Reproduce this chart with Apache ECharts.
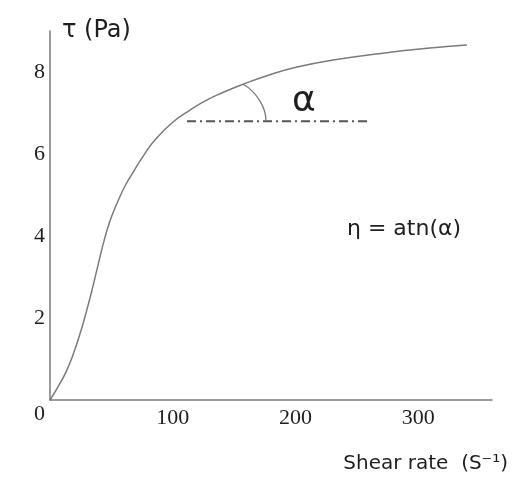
<!DOCTYPE html>
<html>
<head>
<meta charset="utf-8">
<script src="https://cdn.jsdelivr.net/npm/echarts@6/dist/echarts.min.js"></script>
<style>
  html, body { margin: 0; padding: 0; background: #fff; }
  #chart { width: 528px; height: 488px; }
</style>
</head>
<body>
<div id="chart"></div>
<script>
// flow curve: shear rate (1/s) vs shear stress (Pa)
const shearRate = [0, 6.5, 13.0, 18.7, 24.4, 29.3, 34.2, 39.1, 44.0, 48.9, 54.6, 61.1, 68.4, 76.6, 86.3, 100.2, 114.0, 127.9, 140.9, 157.2, 176.7, 201.2, 230.5, 271.2, 311.9, 339.6]
const stress    = [0, 0.32, 0.68, 1.10, 1.61, 2.12, 2.68, 3.29, 3.88, 4.37, 4.80, 5.22, 5.59, 5.98, 6.37, 6.78, 7.07, 7.32, 7.50, 7.70, 7.91, 8.12, 8.29, 8.46, 8.59, 8.66]

// horizontal reference line (dash-dot)
const refRate = [111.6, 260.6]
const refStress = [6.80, 6.80]

// angle arc between curve and reference line
const arcRate = [157.2, 164.5, 171.0, 174.7, 175.9]
const arcStress = [7.70, 7.54, 7.29, 7.05, 6.80]

const xTicks = [100, 200, 300]
const yTicks = [0, 2, 4, 6, 8]

const zip = (a, b) => a.map((v, i) => [v, b[i]])

const chart = echarts.init(document.getElementById('chart'), null, { renderer: 'canvas' })

const lineGray = '#7a7a7a'
const textDark = '#1e1e1e'

chart.setOption({
  backgroundColor: '#fff',
  animation: false,
  grid: { left: 50, right: 36, top: 31, bottom: 88 },
  xAxis: {
    type: 'value',
    min: 0, max: 360, interval: 100,
    name: 'Shear rate  (S⁻¹)',
    nameLocation: 'end',
    nameGap: 16,
    nameTextStyle: {
      fontFamily: 'DejaVu Sans', fontSize: 20, color: textDark,
      align: 'right', verticalAlign: 'top', padding: [54, 0, 0, 0],
    },
    axisLine: { lineStyle: { color: lineGray, width: 1.5 } },
    axisTick: { show: false },
    splitLine: { show: false },
    axisLabel: {
      margin: 7,
      fontFamily: 'Liberation Serif', fontSize: 22, color: textDark,
      formatter: v => xTicks.includes(v) ? String(v) : '',
    },
  },
  yAxis: {
    type: 'value',
    min: 0, max: 9, interval: 2,
    name: 'τ (Pa)',
    nameLocation: 'end',
    nameGap: 0,
    nameTextStyle: {
      fontFamily: 'DejaVu Sans', fontSize: 24, color: textDark,
      align: 'left', verticalAlign: 'middle', padding: [0, 0, 0, 12],
    },
    axisLine: { show: true, lineStyle: { color: lineGray, width: 1.5 } },
    axisTick: { show: false },
    splitLine: { show: false },
    axisLabel: {
      margin: 5,
      fontFamily: 'Liberation Serif', fontSize: 22, color: textDark,
      formatter: v => v === 0 ? '{z|0}' : (yTicks.includes(v) ? String(v) : ''),
      rich: { z: { fontFamily: 'Liberation Serif', fontSize: 22, color: textDark, padding: [28, 0, 0, 0] } },
    },
  },
  graphic: [
    { type: 'text', left: 292, top: 84, style: { text: 'α', font: '36px "DejaVu Sans"', fill: textDark } },
    { type: 'text', left: 347, top: 218, style: { text: 'η = atn(α)', font: '22px "DejaVu Sans"', fill: textDark } },
  ],
  series: [
    {
      type: 'line',
      data: zip(shearRate, stress),
      smooth: 0.5,
      symbol: 'none',
      lineStyle: { color: lineGray, width: 1.5 },
    },
    {
      type: 'line',
      data: zip(refRate, refStress),
      symbol: 'none',
      lineStyle: { color: '#555', width: 2, type: [9, 4, 2, 4] },
    },
    {
      type: 'line',
      data: zip(arcRate, arcStress),
      smooth: 0.5,
      symbol: 'none',
      lineStyle: { color: lineGray, width: 1.3 },
    },
  ],
})
</script>
</body>
</html>
